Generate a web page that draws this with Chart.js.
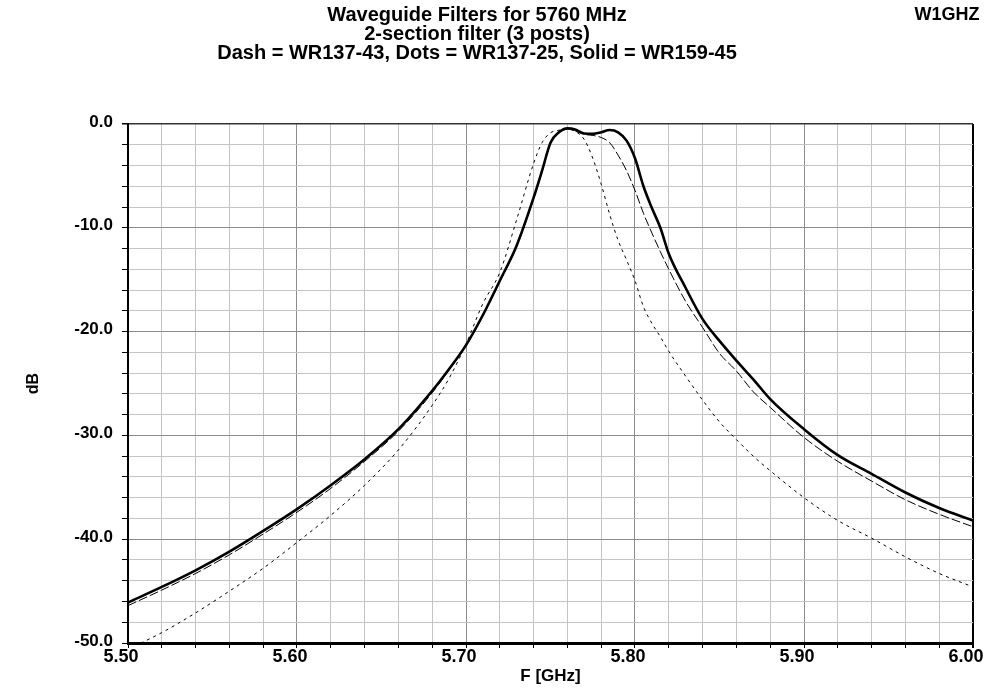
<!DOCTYPE html>
<html><head><meta charset="utf-8">
<script src="https://cdn.jsdelivr.net/npm/chart.js@4/dist/chart.umd.min.js"></script>
<style>html,body{margin:0;padding:0;background:#fff}#wrap{width:986px;height:691px}</style>
</head><body><div id="wrap"><canvas id="c" width="986" height="691"></canvas></div>
<script>
// ---- data ----
const freqGHz = [5.50,5.52,5.54,5.56,5.58,5.60,5.62,5.64,5.66,5.68,5.69,5.70,5.71,5.72,5.73,5.74,5.745,5.75,5.755,5.76,5.765,5.77,5.775,5.78,5.785,5.79,5.795,5.80,5.805,5.81,5.815,5.82,5.83,5.84,5.85,5.86,5.87,5.88,5.90,5.92,5.94,5.96,5.98,6.00];
const solidWR159_45 = [-46.1,-44.6,-43.0,-41.2,-39.2,-37.1,-34.8,-32.3,-29.4,-25.7,-23.6,-21.3,-18.4,-15.1,-11.7,-7.1,-4.5,-1.8,-0.8,-0.42,-0.55,-0.92,-0.95,-0.8,-0.58,-0.8,-1.6,-3.3,-6.0,-8.1,-10.0,-12.5,-15.8,-18.8,-20.9,-22.8,-24.6,-26.5,-29.4,-31.9,-33.7,-35.5,-37.0,-38.2];
const dashWR137_43 = [-46.4,-44.9,-43.3,-41.5,-39.5,-37.4,-35.1,-32.5,-29.6,-25.9,-23.7,-21.4,-18.5,-15.2,-11.8,-7.2,-4.6,-1.9,-0.85,-0.45,-0.7,-1.0,-1.1,-1.3,-1.8,-3.0,-4.5,-6.4,-8.6,-10.5,-12.3,-14.0,-17.1,-19.6,-22.1,-23.8,-25.8,-27.3,-30.2,-32.5,-34.4,-36.2,-37.6,-38.8];
const dotsWR137_25 = [-50.6,-49.0,-47.1,-45.0,-42.8,-40.3,-37.7,-34.8,-31.4,-27.1,-24.5,-21.2,-17.3,-14.3,-9.2,-3.8,-1.8,-0.85,-0.6,-0.5,-0.75,-1.5,-3.3,-5.8,-8.7,-11.2,-13.1,-15.1,-17.6,-19.2,-20.5,-21.9,-24.3,-26.6,-28.7,-30.4,-32.0,-33.4,-36.0,-38.2,-39.9,-41.7,-43.3,-44.6];
const titleLines = ['Waveguide Filters for 5760 MHz','2-section filter (3 posts)','Dash = WR137-43, Dots = WR137-25, Solid = WR159-45'];
const cornerLabel = 'W1GHZ';
const yMajorValues = [0,-10,-20,-30,-40,-50];
const yTickLabels = ['0.0','-10.0','-20.0','-30.0','-40.0','-50.0'];
const xMajorValues = [5.5,5.6,5.7,5.8,5.9,6.0];
const xTickLabels = ['5.50','5.60','5.70','5.80','5.90','6.00'];
const xAxisTitle = 'F [GHz]';
const yAxisTitle = 'dB';

// ---- chart ----
const FAM = "'Liberation Sans',Arial,sans-serif";
const toPts = vals => freqGHz.map((f,i)=>({x:f,y:vals[i]}));
const isMajX = v => Math.abs(Math.round(v*10) - v*10) < 1e-6;
const isMajY = v => Math.abs(Math.round(v/10) - v/10) < 1e-6;

const titleShift = {
  id:'titleShift',
  afterLayout(chart){
    const t = chart.titleBlock;
    if (t) { t.left = 0; t.right = 954; t.width = 954; }
  }
};
const cornerPlugin = {
  id:'corner',
  afterDraw(chart){
    const c = chart.ctx; c.save();
    c.font = "bold 18px " + FAM; c.fillStyle = '#000';
    c.textAlign='center'; c.textBaseline='middle';
    c.fillText(cornerLabel, 947, 15.5);
    c.restore();
  }
};

new Chart(document.getElementById('c'), {
  type:'line',
  data:{datasets:[
    {label:'WR159-45', data:toPts(solidWR159_45), borderColor:'#000', borderWidth:2.6, pointRadius:0, cubicInterpolationMode:'monotone', fill:false, order:0},
    {label:'WR137-43', data:toPts(dashWR137_43), borderColor:'#000', borderWidth:1, borderDash:[9,3], pointRadius:0, cubicInterpolationMode:'monotone', fill:false, order:1},
    {label:'WR137-25', data:toPts(dotsWR137_25), borderColor:'#000', borderWidth:1, borderDash:[3,4], pointRadius:0, cubicInterpolationMode:'monotone', fill:false, order:2}
  ]},
  options:{
    responsive:false, animation:false, devicePixelRatio:1,
    layout:{padding:{left:0,right:13,top:0,bottom:0}},
    plugins:{
      legend:{display:false}, tooltip:{enabled:false},
      title:{display:true, text:titleLines, color:'#000', font:{family:FAM, size:20, weight:'bold', lineHeight:'19px'}, padding:{top:6,bottom:61}}
    },
    scales:{
      x:{type:'linear', min:5.5, max:6.0,
        afterBuildTicks(s){ const t=[]; for(let i=0;i<=25;i++) t.push({value:+(5.5+0.02*i).toFixed(2)}); s.ticks=t; },
        afterFit(s){ s.height=48; s.paddingLeft=0; s.paddingRight=0; },
        grid:{color:c=> (c.tick && Math.abs(c.tick.value-6)<1e-6) ? '#000' : (c.tick && isMajX(c.tick.value) ? '#8c8c8c' : '#c4c4c4'), lineWidth:c=> (c.tick && Math.abs(c.tick.value-6)<1e-6)?2:1, tickColor:'#000', tickLength:5, drawTicks:true},
        border:{display:true, color:'#000', width:3},
        ticks:{autoSkip:false, maxRotation:0, minRotation:0, padding:0, labelOffset:-7, color:'#000', font:{family:FAM,size:18,weight:'bold',lineHeight:1},
          callback:(v)=>{ const i = xMajorValues.findIndex(m=>Math.abs(m-v)<1e-6); return i>=0 ? xTickLabels[i] : ''; }},
        title:{display:true, text:xAxisTitle, color:'#000', font:{family:FAM,size:17,weight:'bold',lineHeight:1.2}, padding:{top:0,bottom:4}}
      },
      y:{type:'linear', min:-50, max:0,
        afterBuildTicks(s){ const t=[]; for(let i=0;i<=25;i++) t.push({value:-50+2*i}); s.ticks=t; },
        afterFit(s){ s.width=128; s.paddingTop=0; s.paddingBottom=0; },
        grid:{color:c=> (c.tick && c.tick.value===0) ? '#333' : (c.tick && isMajY(c.tick.value) ? '#8c8c8c' : '#c4c4c4'), lineWidth:c=>(c.tick && c.tick.value===0)?1.5:1, tickColor:'#000', tickLength:6, drawTicks:true},
        border:{display:true, color:'#000', width:2},
        ticks:{autoSkip:false, padding:9, labelOffset:-2, color:'#000', font:{family:FAM,size:17,weight:'bold',lineHeight:1},
          callback:(v)=>{ const i = yMajorValues.findIndex(m=>Math.abs(m-v)<1e-6); return i>=0 ? yTickLabels[i] : ''; }},
        title:{display:true, text:yAxisTitle, color:'#000', font:{family:FAM,size:16,weight:'bold',lineHeight:1.2}, padding:{top:24,bottom:0}}
      }
    }
  },
  plugins:[titleShift, cornerPlugin]
});
</script></body></html>
